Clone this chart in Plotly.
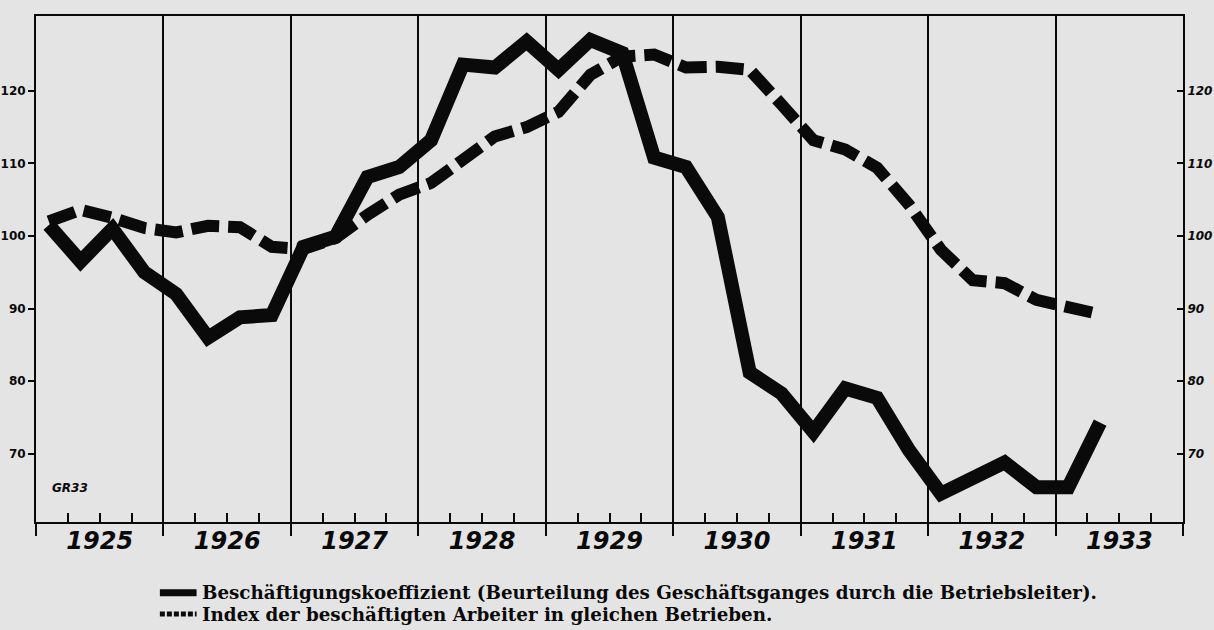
import plotly.graph_objects as go

# --- data (quarterly, 1925 Q1 .. 1933 Q2) ---
years = [1925, 1926, 1927, 1928, 1929, 1930, 1931, 1932, 1933]
quarters = [(y, q) for y in years for q in (1, 2, 3, 4)][:34]

beschaeftigungskoeffizient = [
    101.5, 96.5, 101.0, 95.0, 92.0, 86.0, 88.8, 89.1,
    98.5, 99.9, 108.1, 109.5, 113.2, 123.6, 123.2, 126.8,
    122.9, 127.0, 125.2, 110.8, 109.5, 102.6, 81.2, 78.3,
    73.0, 79.0, 77.7, 70.5, 64.5, 66.4, 68.8, 65.4,
    65.4, 74.3,
]
index_arbeiter = [
    102.0, 103.6, 102.5, 101.1, 100.5, 101.4, 101.2, 98.5,
    98.2, 99.7, 102.9, 105.7, 107.3, 110.5, 113.7, 115.0,
    117.1, 122.2, 124.7, 125.0, 123.2, 123.3, 122.9, 118.1,
    113.2, 111.9, 109.4, 104.3, 98.1, 93.9, 93.5, 91.2,
    90.0, 89.2,
]
y_ticks = [70, 80, 90, 100, 110, 120]
year_labels = [str(y) for y in years]
legend_texts = [
    "Beschäftigungskoeffizient (Beurteilung des Geschäftsganges durch die Betriebsleiter).",
    "Index der beschäftigten Arbeiter in gleichen Betrieben.",
]

# position of each quarterly value inside the year
x = [y + (q - 1) / 4 + 0.1 for (y, q) in quarters]

BG = "#e4e4e4"
INK = "#0a0a0a"

fig = go.Figure()
fig.add_trace(go.Scatter(
    x=x, y=index_arbeiter, mode="lines", xaxis="x2",
    line=dict(color=INK, width=12, dash="28px,9px"),
    name=legend_texts[1], showlegend=False,
))
fig.add_trace(go.Scatter(
    x=x, y=beschaeftigungskoeffizient, mode="lines",
    line=dict(color=INK, width=14),
    name=legend_texts[0], showlegend=False,
))
# right axis needs a trace to be drawn: reuse the index series invisibly
fig.add_trace(go.Scatter(x=x, y=index_arbeiter, yaxis="y2", mode="lines",
                         line=dict(width=0), hoverinfo="skip", showlegend=False))

xr = [1925, 1934]
yr = [60.6, 130.3]
minor_vals = [y + f for y in years for f in (0.25, 0.5, 0.75)]

fig.update_layout(
    width=1214, height=630,
    margin=dict(l=36, r=31, t=16, b=108, autoexpand=False),
    paper_bgcolor=BG, plot_bgcolor=BG,
    showlegend=False,
    xaxis=dict(
        range=xr, tickmode="array", tickvals=list(range(1925, 1935)), automargin=False,
        showticklabels=False, ticks="outside", ticklen=12, tickwidth=2, tickcolor=INK,
        showgrid=True, gridcolor=INK, gridwidth=2,
        showline=True, linecolor=INK, linewidth=2, mirror=True, zeroline=False,
        minor=dict(tickmode="array", tickvals=minor_vals, ticks="inside",
                   ticklen=9, tickwidth=2, tickcolor=INK, showgrid=False),
    ),
    xaxis2=dict(
        range=xr, overlaying="x", anchor="y", side="bottom", automargin=False,
        tickmode="array", tickvals=[y + 0.5 for y in years], ticktext=year_labels,
        ticks="", showgrid=False, showline=False, zeroline=False,
        tickfont=dict(family="DejaVu Sans", size=24, color=INK, weight="bold", style="italic"),
        ticklabelstandoff=2,
    ),
    yaxis=dict(
        range=yr, tickmode="array", tickvals=y_ticks, automargin=False,
        ticks="outside", ticklen=6, tickwidth=2, tickcolor=INK,
        showgrid=False, zeroline=False,
        showline=True, linecolor=INK, linewidth=2,
        tickfont=dict(family="DejaVu Sans", size=12, color=INK, weight="bold"),
    ),
    yaxis2=dict(
        range=yr, overlaying="y", side="right", anchor="x", automargin=False,
        tickmode="array", tickvals=y_ticks,
        ticks="inside", ticklen=6, tickwidth=2, tickcolor=INK,
        showgrid=False, zeroline=False,
        showline=True, linecolor=INK, linewidth=2,
        tickfont=dict(family="DejaVu Sans", size=12, color=INK, weight="bold", style="italic"),
    ),
)

# "GR33" signature
fig.add_annotation(x=0.012, y=0.05, xref="paper", yref="paper", xanchor="left",
                   text="<b><i>GR33</i></b>", showarrow=False,
                   font=dict(family="DejaVu Sans", size=12, color=INK))

# legend keys and texts below the chart
fig.add_shape(type="line", xref="paper", yref="paper", x0=0.108, x1=0.140,
              y0=-0.140, y1=-0.140, line=dict(color=INK, width=7))
fig.add_shape(type="line", xref="paper", yref="paper", x0=0.108, x1=0.140,
              y0=-0.182, y1=-0.182, line=dict(color=INK, width=5, dash="5px,2px"))
for i, t in enumerate(legend_texts):
    fig.add_annotation(x=0.143, y=-0.140 - 0.042 * i, xref="paper", yref="paper",
                       xanchor="left", yanchor="middle", text=f"<b>{t}</b>",
                       showarrow=False,
                       font=dict(family="DejaVu Serif", size=18.3, color=INK))

fig.write_html("out.html", config={"displayModeBar": False},
               post_script="document.body.style.margin='0';")
